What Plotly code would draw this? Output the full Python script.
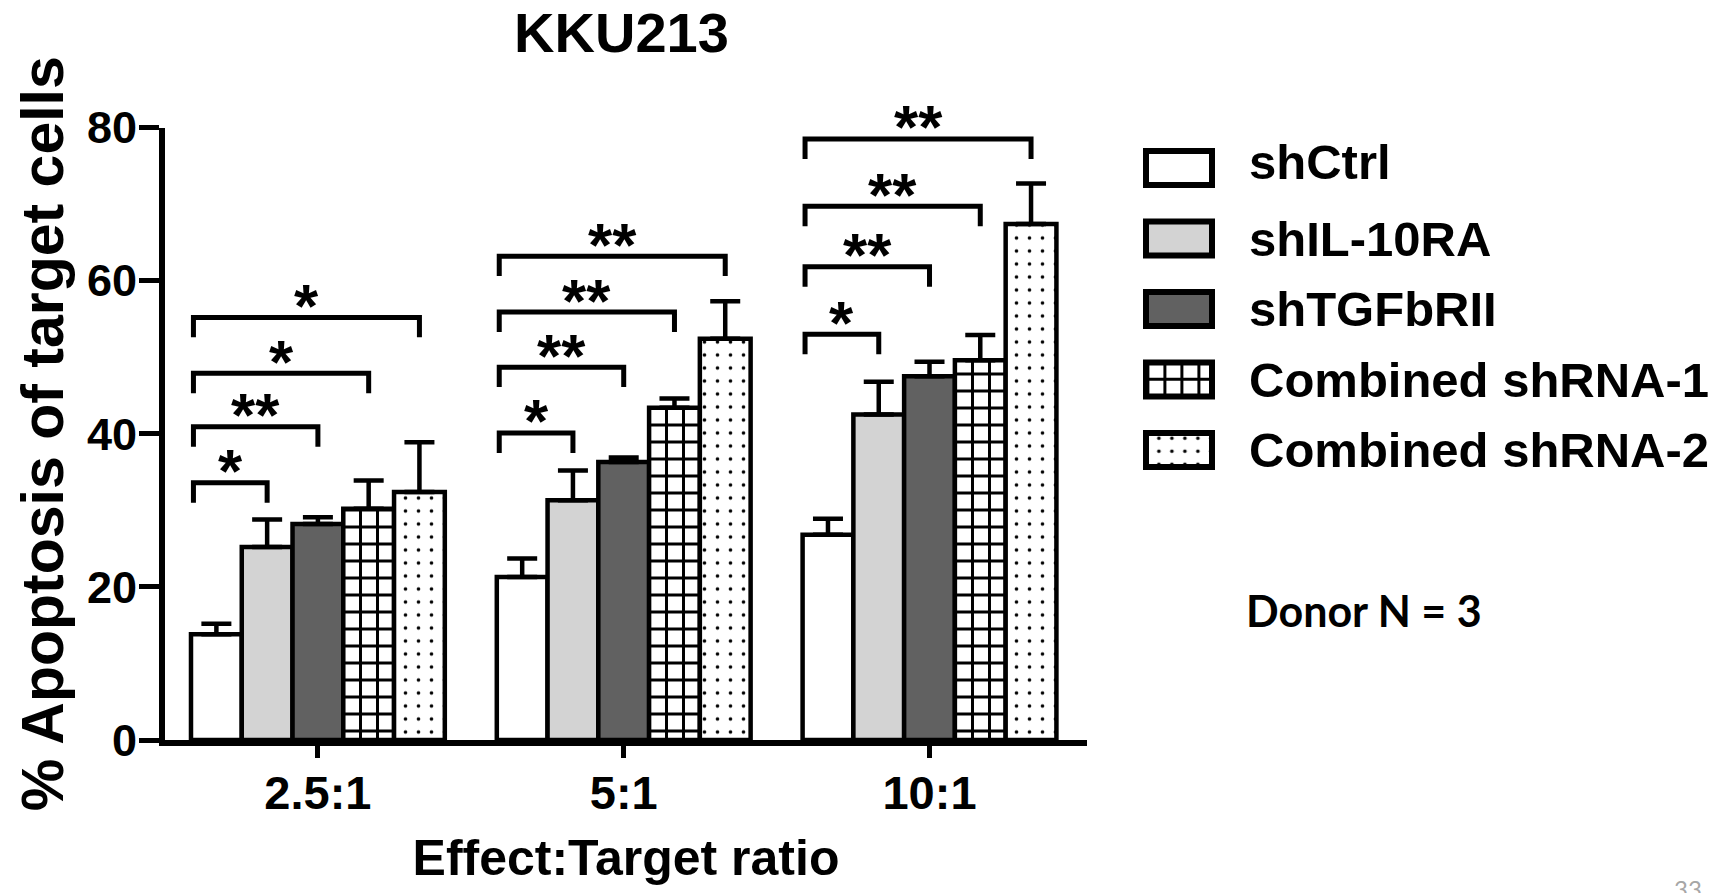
import plotly.graph_objects as go

# ---------------- data ----------------
categories = ["2.5:1", "5:1", "10:1"]
series_names = ["shCtrl", "shIL-10RA", "shTGFbRII", "Combined shRNA-1", "Combined shRNA-2"]
sh_ctrl = [13.8, 21.3, 26.8]
sh_il10ra = [25.2, 31.3, 42.5]
sh_tgfbrii = [28.2, 36.3, 47.5]
comb_1 = [30.2, 43.4, 49.6]
comb_2 = [32.4, 52.4, 67.4]
err_ctrl = [1.4, 2.4, 2.1]
err_il10ra = [3.6, 3.9, 4.3]
err_tgfbrii = [0.9, 0.6, 1.9]
err_comb1 = [3.7, 1.2, 3.3]
err_comb2 = [6.5, 4.9, 5.3]
y_ticks = [0, 20, 40, 60, 80]

# significance brackets: group index, compared bar index (vs shCtrl), height, label
br_group = [0, 0, 0, 0, 1, 1, 1, 1, 2, 2, 2, 2]
br_target = [1, 2, 3, 4, 1, 2, 3, 4, 1, 2, 3, 4]
br_height = [33.6, 40.9, 47.9, 55.2, 40.1, 48.7, 55.9, 63.2, 53.0, 61.8, 69.7, 78.5]
br_label = ["*", "**", "*", "*", "*", "**", "**", "**", "*", "**", "**", "**"]

values = [sh_ctrl, sh_il10ra, sh_tgfbrii, comb_1, comb_2]
errors = [err_ctrl, err_il10ra, err_tgfbrii, err_comb1, err_comb2]

# ---------------- styles ----------------
W, H = 1729, 893
FONT = "Liberation Sans"
fills = ["white", "#d3d3d3", "#616161", "white", "white"]
shapes = ["", "", "", "+", "."]
pat_size = [10, 10, 10, 17, 13]
pat_sol = [0.3, 0.3, 0.3, 0.32, 0.06]
BARGAP = 0.17
N = len(series_names)
bar_w = (1 - BARGAP) / N


def bar_center(g, i):
    return g - (1 - BARGAP) / 2 + bar_w * (i + 0.5)


def make_marker(i, lw):
    m = dict(color=fills[i], line=dict(color="black", width=lw))
    if shapes[i]:
        m["pattern"] = dict(shape=shapes[i], fgcolor="black", bgcolor="white",
                            size=pat_size[i], solidity=pat_sol[i], fillmode="replace")
    return m


fig = go.Figure()
xpos = list(range(len(categories)))
for i, name in enumerate(series_names):
    fig.add_trace(go.Bar(
        x=xpos, y=values[i], name=name, marker=make_marker(i, 4.5),
        error_y=dict(type="data", array=errors[i], symmetric=False,
                     arrayminus=[0] * len(categories), color="black",
                     thickness=4.5, width=15),
        showlegend=False, hoverinfo="skip"))

# brackets
LEG_DROP = 2.6
LEFT_OFF = 0.075
annotations = []
for g, t, h, lab in zip(br_group, br_target, br_height, br_label):
    xl = bar_center(g, 0) - LEFT_OFF
    xr = bar_center(g, t)
    fig.add_trace(go.Scatter(
        x=[xl, xl, xr, xr], y=[h - LEG_DROP, h, h, h - LEG_DROP],
        mode="lines", line=dict(color="black", width=5),
        showlegend=False, hoverinfo="skip"))
    annotations.append(dict(
        x=(xl + xr) / 2, y=h, xref="x", yref="y", text=lab, showarrow=False,
        xanchor="center", yanchor="middle", yshift=12,
        font=dict(family=FONT, size=62, color="black", weight="bold")))

# legend boxes drawn as small horizontal bars, one per series
for i, name in enumerate(series_names):
    fig.add_trace(go.Bar(
        x=[1], y=[i], base=0, orientation="h", width=0.482,
        xaxis="x2", yaxis="y2", marker=make_marker(i, 6),
        showlegend=False, hoverinfo="skip"))
    annotations.append(dict(
        x=1247 / W, y=i, xref="paper", yref="y2", text=name, showarrow=False,
        xanchor="left", yanchor="middle", yshift=6 if i == 0 else 0,
        font=dict(family=FONT, size=49, color="black", weight="bold")))

annotations.append(dict(
    x=1244 / W, y=1 - 610 / H, xref="paper", yref="paper", text="Donor N = 3",
    showarrow=False, xanchor="left", yanchor="middle",
    font=dict(family="Lato", size=43, color="black", weight="bold")))
annotations.append(dict(
    x=1688 / W, y=1 - 872 / H, xref="paper", yref="paper", text="33",
    showarrow=False, xanchor="center", yanchor="top",
    font=dict(family="Lato", size=24, color="#a6a6a6")))

fig.update_layout(
    width=W, height=H, margin=dict(l=0, r=0, t=0, b=0, pad=0, autoexpand=False),
    paper_bgcolor="white", plot_bgcolor="white",
    barmode="group", bargap=BARGAP, bargroupgap=0,
    title=dict(text="KKU213", x=621.5 / W, xref="paper", xanchor="center",
               y=1 - 32 / H, yref="paper", yanchor="middle", automargin=False,
               font=dict(family=FONT, size=56, color="black", weight="bold")),
    xaxis=dict(domain=[165 / W, 1087 / W], range=[-0.5, 2.515], automargin=False,
               tickvals=xpos, ticktext=categories,
               showline=True, linewidth=6, linecolor="black",
               ticks="outside", ticklen=12, tickwidth=5, tickcolor="black",
               ticklabelstandoff=-5,
               showgrid=False, zeroline=False, fixedrange=True,
               tickfont=dict(family=FONT, size=47, color="black", weight="bold"),
               title=dict(text="Effect:Target ratio", standoff=24,
                          font=dict(family=FONT, size=50, color="black", weight="bold"))),
    yaxis=dict(domain=[1 - 740 / H, 1 - 127.5 / H], range=[0, 80], automargin=False,
               tickvals=y_ticks,
               showline=True, linewidth=6, linecolor="black",
               ticks="outside", ticklen=20, tickwidth=5, tickcolor="black",
               ticklabelstandoff=-7,
               showgrid=False, zeroline=False, fixedrange=True,
               tickfont=dict(family=FONT, size=45, color="black", weight="bold"),
               title=dict(text="% Apoptosis of target cells", standoff=6,
                          font=dict(family=FONT, size=59, color="black", weight="bold"))),
    xaxis2=dict(domain=[1139.4 / W, 1218.6 / W], range=[-0.1, 1.1], anchor="y2",
                visible=False, fixedrange=True, automargin=False),
    yaxis2=dict(domain=[1 - 485.25 / H, 1 - 132.75 / H], range=[4.5, -0.5], anchor="x2",
                visible=False, fixedrange=True, automargin=False),
    annotations=annotations,
)

fig.write_html("out.html")
